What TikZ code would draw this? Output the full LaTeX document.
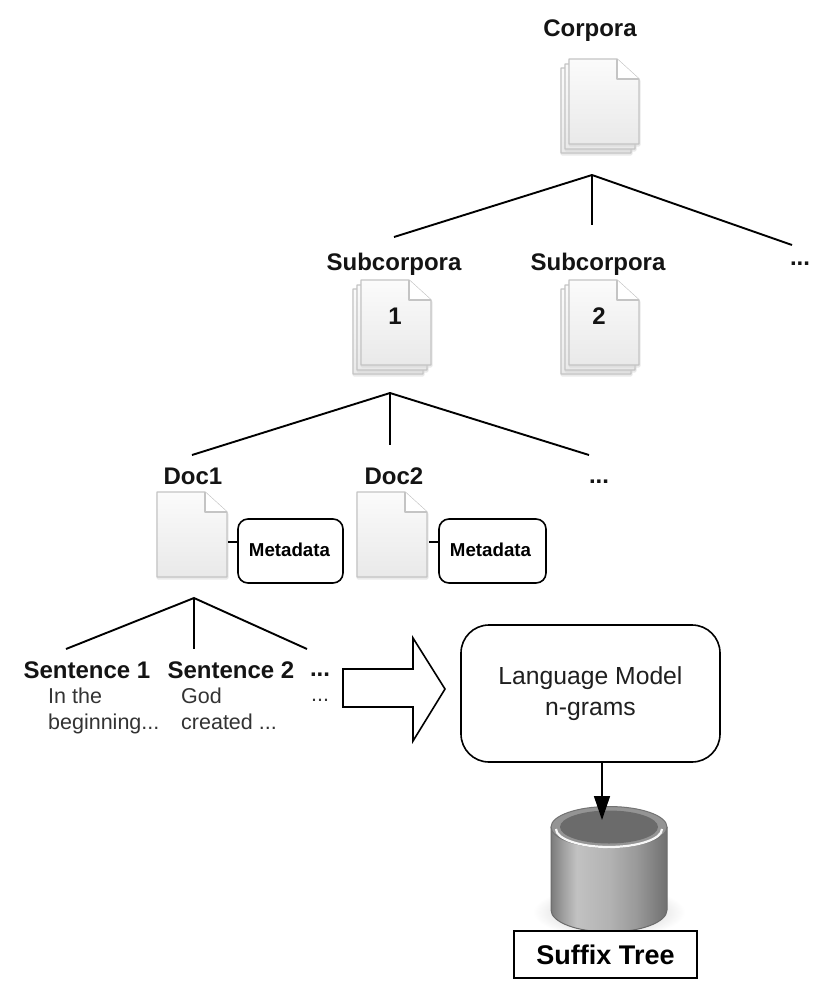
\documentclass[tikz,border=0pt]{standalone}
\usepackage{fontspec}
\setmainfont{Liberation Sans}
\usetikzlibrary{arrows.meta}
\definecolor{pgedge}{HTML}{C4C4C4}
\definecolor{pgtop}{HTML}{FBFBFB}
\definecolor{pgbot}{HTML}{E9E9E9}
\pgfdeclarehorizontalshading{cylside}{100bp}{
  color(0bp)=(black!52);
  color(25bp)=(black!52);
  color(30bp)=(black!38);
  color(36bp)=(black!24);
  color(50bp)=(black!30);
  color(62bp)=(black!40);
  color(75bp)=(black!56);
  color(100bp)=(black!56)}
\tikzset{
  px/.style={x=1pt,y=-1pt},
  head/.style={font=\fontsize{24}{26}\selectfont\bfseries,inner sep=0pt,text=black!92},
  body/.style={font=\fontsize{21.5}{26}\selectfont,inner sep=0pt,align=left,text=black!80},
  treeline/.style={draw=black,line width=1.9pt},
  metabox/.style={draw=black,line width=1.6pt,rounded corners=10pt,font=\fontsize{18.7}{20}\selectfont\bfseries,minimum width=105pt,minimum height=64pt,inner sep=0pt},
  pagesheet/.style={draw=pgedge,line width=1.2pt,line join=round,top color=pgtop,bottom color=pgbot},
  pageghost/.style={draw=black!18,line width=3pt,line join=round,opacity=.45},
}
% #1 left, #2 top : one page 70 x 85
\newcommand{\sheet}[2]{%
  \draw[pageghost] (#1+1,#2+2) -- (#1+48,#2+2) -- (#1+70,#2+22) -- (#1+70,#2+86) -- (#1+1,#2+86) -- cycle;
  \path[pagesheet] (#1,#2) -- (#1+48,#2) -- (#1+70,#2+20) -- (#1+70,#2+85) -- (#1,#2+85) -- cycle;
  \draw[draw=pgedge,line width=1.2pt,line join=round,fill=white] (#1+48,#2) -- (#1+48,#2+20) -- (#1+70,#2+20);
}
\newcommand{\sheetstack}[2]{%
  \sheet{#1-8}{#2+9}\sheet{#1-4}{#2+5}\sheet{#1}{#2}%
}
\begin{document}
\begin{tikzpicture}[px]
\useasboundingbox (0,0) rectangle (830,994);
\fill[white] (0,0) rectangle (830,994);

% ---------- top level
\node[head] (corpora) at (590,31) {Corpora};
\sheetstack{569}{59}
\coordinate (a1) at (592,175);
\coordinate (a1l) at (394,237);
\coordinate (a1c) at (592,225);
\coordinate (a1r) at (792,245);
\draw[treeline] (a1l) -- (a1) -- (a1r);
\draw[treeline] (a1) -- (a1c);

% ---------- subcorpora
\node[head] (sub1) at (394,264) {Subcorpora};
\node[head] (sub2) at (598,264) {Subcorpora};
\node[head] (subdots) at (800,264) {...};
\sheetstack{361}{280}
\sheetstack{569}{280}
\node[head] (n1) at (395,316) {1};
\node[head] (n2) at (599,316) {2};
\coordinate (a2) at (390,393);
\coordinate (a2l) at (192,455);
\coordinate (a2c) at (390,445);
\coordinate (a2r) at (589,455);
\draw[treeline] (a2l) -- (a2) -- (a2r);
\draw[treeline] (a2) -- (a2c);

% ---------- documents
\node[head] (doc1) at (193,476) {Doc1};
\node[head] (doc2) at (394,476) {Doc2};
\node[head] (docdots) at (599,482) {...};
\sheet{157}{492}
\sheet{357}{492}
\node[metabox] (meta1) at (290.5,551) {\hspace*{-2pt}\raisebox{3pt}{Metadata}};
\node[metabox,minimum width=107pt] (meta2) at (492.5,551) {\hspace*{-4pt}\raisebox{3pt}{Metadata}};
\coordinate (m1) at (228,542);
\coordinate (m2) at (429,542);
\draw[treeline] (m1) -- (m1 -| meta1.west);
\draw[treeline] (m2) -- (m2 -| meta2.west);

% ---------- sentences
\coordinate (a3) at (194,598);
\coordinate (a3l) at (66,649);
\coordinate (a3c) at (194,649);
\coordinate (a3r) at (307,649);
\draw[treeline] (a3l) -- (a3) -- (a3r);
\draw[treeline] (a3) -- (a3c);
\node[head] (s1) at (87,670) {Sentence 1};
\node[head] (s2) at (231,670) {Sentence 2};
\node[head] (s3) at (320,675) {...};
\node[body,anchor=north west] (t1) at (48,688) {In the\\beginning...};
\node[body,anchor=north west] (t2) at (181,688) {God\\created ...};
\node[body,anchor=north west] (t3) at (311,699) {...};

% ---------- block arrow
\draw[black,line width=1.6pt,fill=white,line join=miter]
  (343,669) -- (413,669) -- (413,638) -- (445,689) -- (413,741) -- (413,707) -- (343,707) -- cycle;

% ---------- language model
\node[draw=black,line width=1.6pt,rounded corners=28pt,minimum width=259pt,minimum height=137pt,inner sep=0pt,
      font=\fontsize{24.7}{31}\selectfont,text=black!88,align=center] (lm) at (590.5,693.5)
  {Language Model\\n-grams};

% ---------- cylinder
\shade[inner color=black!28,outer color=white] (609,912) ellipse[x radius=76,y radius=26];
\path[shading=cylside]
    (551,827) -- (551,910) arc[start angle=180,end angle=0,x radius=58,y radius=22] -- (667,827) -- cycle;
\draw[black!58,line width=1pt]
    (551,827) -- (551,910) arc[start angle=180,end angle=0,x radius=58,y radius=22] -- (667,827);
\fill[black!42,draw=black!55,line width=1pt] (609,827) ellipse[x radius=58,y radius=20.5];
\draw[black!3,line width=2.2pt] (556,829) arc[start angle=180,end angle=0,x radius=53,y radius=18];
\fill[black!58] (609,827) ellipse[x radius=49,y radius=16.5];

\node[draw=black,line width=1.6pt,fill=white,minimum width=183pt,minimum height=47pt,inner sep=0pt,
      font=\fontsize{27}{29}\selectfont\bfseries] (st) at (605.5,954.5) {Suffix Tree};
\coordinate (tip) at (602,820);
\draw[line width=1.6pt,-{Triangle[length=24pt,width=16pt]}] (tip |- lm.south) -- (tip);
\end{tikzpicture}
\end{document}
